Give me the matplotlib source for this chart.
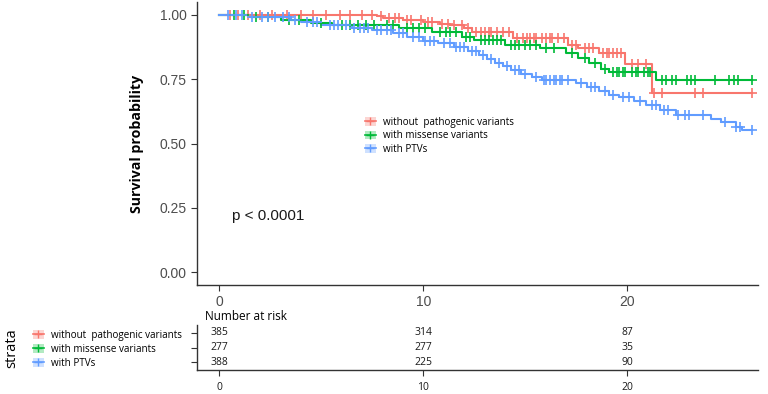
import numpy as np
import matplotlib
matplotlib.use('Agg')
import matplotlib.pyplot as plt
from matplotlib.lines import Line2D
from matplotlib.patches import Patch

# Kaplan-Meier curves (time in years, survival)
groups = ['without  pathogenic variants', 'with missense variants', 'with PTVs']
colors = ['#F8766D', '#00BA38', '#619CFF']

red_times = [0, 7.7, 8.0, 9.0, 10.0, 10.8, 11.3, 12.0, 12.4, 14.4, 17.1,
             17.6, 18.6, 19.9, 21.2]
red_surv = [1.0, 0.995, 0.988, 0.98, 0.973, 0.965, 0.96, 0.95, 0.934, 0.91,
            0.883, 0.87, 0.853, 0.81, 0.696]
red_end = 26.1
red_cens = [0.5, 0.9, 1.4, 2.0, 2.6, 3.3, 4.0, 4.6, 5.2, 5.9, 6.4, 7.0, 7.5,
            7.9, 8.3, 8.6, 8.8, 9.2, 9.4, 9.9, 10.2, 10.4, 10.9, 11.2, 11.5,
            11.9, 12.2, 12.6, 12.8, 13.0, 13.2, 13.3, 13.6, 13.9, 14.2, 14.6,
            14.9, 15.1, 15.2, 15.4, 15.5, 15.8, 16.0, 16.2, 16.3, 16.6, 16.9,
            17.3, 17.5, 17.9, 18.1, 18.3, 18.8, 19.0, 19.1, 19.3, 19.5, 19.7,
            20.2, 20.5, 20.9, 21.3, 21.7, 23.3, 23.7, 26.1]

green_times = [0, 1.5, 3.0, 4.5, 5.5, 8.8, 10.4, 11.9, 12.5, 14.0, 15.7,
               17.0, 17.6, 18.1, 18.7, 19.1, 21.4]
green_surv = [1.0, 0.99, 0.98, 0.97, 0.96, 0.95, 0.934, 0.915, 0.903, 0.883,
              0.87, 0.853, 0.833, 0.813, 0.79, 0.778, 0.747]
green_end = 26.1
green_cens = [0.7, 1.2, 1.8, 2.4, 3.4, 3.9, 5.0, 6.0, 6.4, 6.8, 7.2, 7.6,
              8.2, 8.5, 9.2, 9.5, 9.8, 10.1, 10.8, 11.1, 11.3, 11.6, 12.1,
              12.3, 12.8, 13.0, 13.2, 13.4, 13.6, 13.8, 14.3, 14.5, 14.7, 15.0,
              15.2, 15.5, 16.0, 16.4, 17.3, 17.9, 18.4, 18.9, 19.3, 19.5, 19.6,
              19.8, 19.9, 20.2, 20.4, 20.5, 20.8, 21.0, 21.1, 21.7, 21.9, 22.2,
              22.4, 22.9, 23.1, 23.3, 24.3, 25.0, 25.2, 25.4, 26.1]

blue_times = [0, 1.5, 3.5, 4.0, 5.0, 6.5, 7.5, 8.5, 9.2, 10.0, 10.7, 11.5,
              12.2, 12.7, 13.1, 13.5, 13.9, 14.3, 14.8, 15.3, 15.8, 17.5,
              18.0, 18.6, 19.1, 19.6, 20.3, 20.9, 21.6, 22.4, 24.1, 24.6,
              25.3, 25.6]
blue_surv = [1.0, 0.99, 0.98, 0.973, 0.96, 0.95, 0.94, 0.93, 0.915, 0.9,
             0.89, 0.876, 0.86, 0.844, 0.83, 0.813, 0.8, 0.786, 0.77, 0.76,
             0.747, 0.735, 0.72, 0.705, 0.69, 0.68, 0.665, 0.65, 0.63, 0.61,
             0.595, 0.584, 0.564, 0.553]
blue_end = 26.1
blue_cens = [0.4, 0.8, 1.1, 1.6, 2.1, 2.4, 2.7, 3.1, 3.4, 3.7, 4.3, 4.6,
             4.8, 5.4, 5.6, 5.8, 6.2, 6.6, 6.9, 7.1, 7.3, 7.7, 7.9, 8.2, 8.4,
             8.8, 9.0, 9.5, 9.8, 10.1, 10.3, 10.5, 11.0, 11.3, 11.6, 11.8,
             12.0, 12.4, 12.6, 12.9, 13.3, 13.7, 14.1, 14.5, 14.7, 15.0, 15.5,
             15.9, 16.0, 16.2, 16.4, 16.5, 16.7, 16.8, 17.1, 17.7, 18.2, 18.4,
             18.9, 19.3, 19.8, 20.1, 20.6, 21.2, 21.4, 21.8, 22.0, 22.5, 22.8,
             23.0, 23.7, 24.8, 25.3, 25.5, 26.1]

risk_times = [0, 10, 20]
risk_counts = [[385, 314, 87], [277, 277, 35], [388, 225, 90]]

pval_text = 'p < 0.0001'

curves = [(red_times, red_surv, red_end, red_cens),
          (green_times, green_surv, green_end, green_cens),
          (blue_times, blue_surv, blue_end, blue_cens)]

W, H = 768, 394
fig = plt.figure(figsize=(W / 100, H / 100), dpi=100)


def fx(px):
    return px / W


def fy(py):
    return 1 - py / H


tick_gray = '#4d4d4d'
xlim = (-1.1, 26.4)

# main survival plot
ax = fig.add_axes([fx(197), fy(285), fx(758) - fx(197), fy(2) - fy(285)])
for (t, s, end, cens), col in zip(curves, colors):
    tt = list(t) + [end]
    ss = list(s) + [s[-1]]
    ax.step(tt, ss, where='post', color=col, lw=1.5, zorder=3)
    idx = np.searchsorted(t, cens, side='right') - 1
    ax.plot(cens, np.array(s)[idx], ls='none', marker='+', ms=7, mew=1.2,
            color=col, zorder=4)

ax.set_xlim(*xlim)
ax.set_ylim(-0.05, 1.05)
ax.set_yticks([0, 0.25, 0.5, 0.75, 1.0])
ax.set_yticklabels(['0.00', '0.25', '0.50', '0.75', '1.00'])
ax.set_xticks(risk_times)
for side in ['top', 'right']:
    ax.spines[side].set_visible(False)
for side in ['left', 'bottom']:
    ax.spines[side].set_color('#333333')
    ax.spines[side].set_linewidth(1.0)
ax.tick_params(colors='#333333', labelcolor=tick_gray, labelsize=10,
               length=4, width=0.8)
for lab in ax.get_xticklabels() + ax.get_yticklabels():
    lab.set_family('Liberation Sans')
ax.set_ylabel('Survival probability', fontsize=10.2, fontweight='bold',
              family='Open Sans', labelpad=11)
ax.text(0.6, 0.22, pval_text, fontsize=11, family='Liberation Sans',
        color='#1a1a1a', va='center')


def legend_handles():
    hs = []
    for col in colors:
        hs.append((Patch(facecolor=col, alpha=0.3, edgecolor='none'),
                   Line2D([], [], color=col, lw=1.2, marker='+', ms=6,
                          mew=1.0)))
    return hs


ax.legend(legend_handles(), groups, loc='upper left',
          bbox_to_anchor=(fx(360), fy(112)),
          bbox_transform=fig.transFigure, frameon=False,
          handlelength=1.1, handleheight=1.0, handletextpad=0.7,
          labelspacing=0.25, borderpad=0,
          prop={'family': 'Open Sans', 'size': 7.1})

# number at risk table
tab = fig.add_axes([fx(197), fy(370), fx(758) - fx(197), fy(325) - fy(370)])
tab.set_xlim(*xlim)
tab.set_ylim(3.55, 0.45)
for i, row in enumerate(risk_counts):
    for t, n in zip(risk_times, row):
        tab.text(t, i + 1, str(n), ha='center', va='center', fontsize=7.5,
                 family='Open Sans', color='#1a1a1a')
tab.set_yticks([1, 2, 3])
tab.set_yticklabels([])
tab.set_xticks(risk_times)
tab.set_xticklabels([str(t) for t in risk_times], fontsize=7.5,
                    family='Open Sans')
for side in ['top', 'right']:
    tab.spines[side].set_visible(False)
for side in ['left', 'bottom']:
    tab.spines[side].set_color('#333333')
    tab.spines[side].set_linewidth(1.0)
tab.tick_params(colors='#333333', labelcolor='#1a1a1a', length=4, width=0.8)
tab.tick_params(axis='x', pad=5)
tab.text(fx(205), fy(316), 'Number at risk', transform=fig.transFigure,
         fontsize=8.5, family='Open Sans', va='center', ha='left')

# strata legend on the left
fig.text(fx(12), fy(348), 'strata', rotation=90, fontsize=10.5,
         family='Open Sans', va='center', ha='center')
fig.legend(legend_handles(), groups, loc='upper left',
           bbox_to_anchor=(fx(28), fy(325)), frameon=False,
           handlelength=1.1, handleheight=1.0, handletextpad=0.7,
           labelspacing=0.3, borderpad=0,
           prop={'family': 'Open Sans', 'size': 7.1})

fig.savefig('out.png', dpi=100)
